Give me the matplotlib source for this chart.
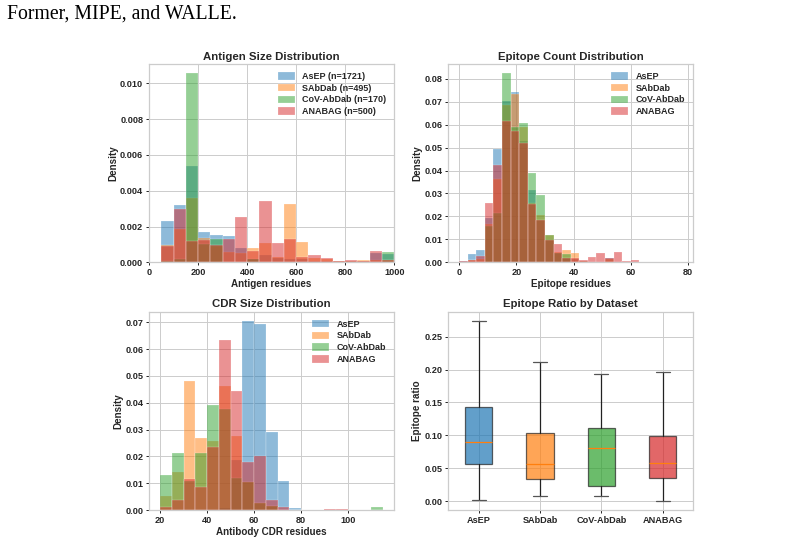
"""Dataset statistics panel: antigen size, epitope count, CDR size, epitope ratio."""

import matplotlib

matplotlib.use("Agg")
import matplotlib.pyplot as plt  # noqa: E402
import numpy as np  # noqa: E402

DATASETS = ["AsEP", "SAbDab", "CoV-AbDab", "ANABAG"]
DATASET_N = [1721, 495, 170, 500]
COLORS = ["#1f77b4", "#ff7f0e", "#2ca02c", "#d62728"]

# Antigen size histogram (density), bins of 50 residues from 50 to 1000
ANTIGEN_EDGES = list(range(50, 1001, 50))
ANTIGEN_ASEP = [0.0023, 0.0032, 0.0054, 0.0017, 0.00153, 0.00147, 0.00082, 0.0002, 0.0004, 0.00025,
                0.0002, 0.0002, 0.0001, 0.0001, 0.00005, 0.00005, 0.00005, 0.00054, 0.00045]
ANTIGEN_SABDAB = [0.00098, 0.00185, 0.0036, 0.00138, 0.0009, 0.00056, 0.0005, 0.00078, 0.00108, 0.0003,
                  0.00326, 0.00116, 0.00022, 0.00017, 0.00007, 0.00005, 0.00015, 0.00015, 0.00015]
ANTIGEN_COV = [0.0001, 0.0002, 0.01056, 0.00105, 0.00128, 0.0, 0.0, 0.0002, 0.0, 0.0,
               0.0, 0.0, 0.0, 0.0, 0.0, 0.0, 0.0, 0.0, 0.00058]
ANTIGEN_ANABAG = [0.00093, 0.0030, 0.0012, 0.00125, 0.00095, 0.00132, 0.00254, 0.00063, 0.0034, 0.00108,
                  0.0013, 0.00028, 0.0004, 0.00024, 0.00007, 0.00013, 0.0001, 0.00062, 0.00015]

# Epitope count histogram (density), bins of 3 residues from 0 to 78
EPITOPE_EDGES = list(range(0, 79, 3))
EPITOPE_ASEP = [0.0005, 0.0035, 0.0054, 0.0192, 0.0492, 0.0704, 0.0740, 0.0530, 0.0316, 0.0185,
                0.0097, 0.0039, 0.0017, 0.0015, 0.0004, 0.0003, 0.0003, 0.0018, 0.0002, 0.0001,
                0.0001, 0.0, 0.0, 0.0, 0.0, 0.0001]
EPITOPE_SABDAB = [0.0003, 0.0008, 0.0015, 0.0165, 0.0362, 0.0687, 0.0733, 0.0588, 0.0260, 0.0207,
                  0.0119, 0.0045, 0.0052, 0.0039, 0.0005, 0.0, 0.0, 0.0015, 0.0, 0.0,
                  0.0, 0.0, 0.0, 0.0, 0.0, 0.0]
EPITOPE_COV = [0.0, 0.0, 0.0, 0.0158, 0.0214, 0.0823, 0.0588, 0.0607, 0.0388, 0.0294,
               0.0117, 0.0040, 0.0038, 0.0, 0.0, 0.0, 0.0, 0.0, 0.0, 0.0,
               0.0, 0.0, 0.0, 0.0, 0.0, 0.0]
EPITOPE_ANABAG = [0.0006, 0.0012, 0.0028, 0.0259, 0.0425, 0.0614, 0.0573, 0.0520, 0.0253, 0.0185,
                  0.0097, 0.0080, 0.0017, 0.0019, 0.0010, 0.0025, 0.0039, 0.0019, 0.0045, 0.0006,
                  0.0012, 0.0, 0.0, 0.0, 0.0, 0.0]

# CDR size histogram (density), bins of 5 residues from 20 to 115
CDR_EDGES = list(range(20, 116, 5))
CDR_ASEP = [0.0, 0.0, 0.0, 0.0, 0.0, 0.0007, 0.0187, 0.0704, 0.0693, 0.0292,
            0.0108, 0.0007, 0.0, 0.0, 0.0, 0.0, 0.0, 0.0, 0.0]
CDR_SABDAB = [0.0052, 0.0140, 0.0481, 0.0270, 0.0257, 0.0462, 0.0277, 0.0103, 0.0025, 0.0015,
              0.0, 0.0, 0.0, 0.0, 0.0, 0.0, 0.0, 0.0, 0.0]
CDR_COV = [0.0131, 0.0213, 0.0110, 0.0213, 0.0390, 0.0378, 0.0120, 0.0103, 0.0025, 0.0015,
           0.0, 0.0, 0.0, 0.0, 0.0, 0.0, 0.0, 0.0, 0.0011]
CDR_ANABAG = [0.0010, 0.0037, 0.0116, 0.0086, 0.0233, 0.0634, 0.0444, 0.0178, 0.0203, 0.0037,
              0.0010, 0.0, 0.0, 0.0, 0.0003, 0.0003, 0.0, 0.0, 0.0]

# Epitope ratio box statistics per dataset
RATIO_WHISLO = [0.0015, 0.0081, 0.0081, 0.0]
RATIO_Q1 = [0.0558, 0.0330, 0.0233, 0.0345]
RATIO_MED = [0.0903, 0.0558, 0.0811, 0.0573]
RATIO_Q3 = [0.1425, 0.1040, 0.1105, 0.0989]
RATIO_WHISHI = [0.2743, 0.2110, 0.1927, 0.1957]


def _setup_style():
    plt.style.use("seaborn-v0_8-whitegrid")
    plt.rcParams.update(
        {
            "font.family": ["Liberation Sans", "DejaVu Sans"],
            "font.weight": "bold",
            "axes.titleweight": "bold",
            "axes.labelweight": "bold",
            "axes.titlesize": 8.2,
            "axes.labelsize": 7.1,
            "xtick.labelsize": 6.6,
            "ytick.labelsize": 6.6,
            "legend.fontsize": 6.5,
            "xtick.major.size": 2.2,
            "ytick.major.size": 2.2,
            "xtick.major.width": 0.7,
            "ytick.major.width": 0.7,
            "xtick.major.pad": 2,
            "ytick.major.pad": 2,
            "axes.titlepad": 3,
            "axes.labelpad": 1.5,
            "grid.linewidth": 0.7,
            "axes.linewidth": 0.9,
        }
    )


def _hist(ax, edges, series, labels):
    edges = np.asarray(edges, dtype=float)
    for values, label, color in zip(series, labels, COLORS):
        ax.hist(edges[:-1], bins=edges, weights=values, alpha=0.5, color=color,
                label=label, edgecolor="white", linewidth=0.3)
    ax.legend(loc="upper right", frameon=False, handlelength=1.9, handleheight=0.9,
              borderaxespad=0.5, labelspacing=0.3, handletextpad=0.8)
    ax.set_ylabel("Density")


def main():
    _setup_style()
    fig = plt.figure(figsize=(7.9, 5.42), dpi=100)
    left_x, right_x, width = 0.1886, 0.5671, 0.3105
    top_y, bottom_y, height = 0.516, 0.059, 0.366
    ax_ag = fig.add_axes([left_x, top_y, width, height])
    ax_ep = fig.add_axes([right_x, top_y, width, height])
    ax_cdr = fig.add_axes([left_x, bottom_y, width, height])
    ax_box = fig.add_axes([right_x, bottom_y, width, height])

    fig.text(0.009, 0.966, "Former, MIPE, and WALLE.", family=["Liberation Serif", "DejaVu Serif"],
             fontsize=14.2, weight="normal", color="black", ha="left", va="baseline")

    labels_n = [f"{d} (n={n})" for d, n in zip(DATASETS, DATASET_N)]
    _hist(ax_ag, ANTIGEN_EDGES, [ANTIGEN_ASEP, ANTIGEN_SABDAB, ANTIGEN_COV, ANTIGEN_ANABAG], labels_n)
    ax_ag.set_xlim(0, 1000)
    ax_ag.set_xlabel("Antigen residues")
    ax_ag.set_title("Antigen Size Distribution")

    _hist(ax_ep, EPITOPE_EDGES, [EPITOPE_ASEP, EPITOPE_SABDAB, EPITOPE_COV, EPITOPE_ANABAG], DATASETS)
    ax_ep.set_xlabel("Epitope residues")
    ax_ep.set_title("Epitope Count Distribution")

    _hist(ax_cdr, CDR_EDGES, [CDR_ASEP, CDR_SABDAB, CDR_COV, CDR_ANABAG], DATASETS)
    ax_cdr.set_xlabel("Antibody CDR residues")
    ax_cdr.set_title("CDR Size Distribution")

    stats = [
        {"label": d, "whislo": lo, "q1": q1, "med": med, "q3": q3, "whishi": hi, "fliers": []}
        for d, lo, q1, med, q3, hi in zip(DATASETS, RATIO_WHISLO, RATIO_Q1, RATIO_MED,
                                          RATIO_Q3, RATIO_WHISHI)
    ]
    bp = ax_box.bxp(stats, widths=0.45, patch_artist=True, showfliers=False,
                    medianprops={"color": "#ff7f0e", "linewidth": 0.9},
                    whiskerprops={"color": "#222222", "linewidth": 0.9},
                    capprops={"color": "#555555", "linewidth": 0.9},
                    boxprops={"linewidth": 0.9})
    for patch, color in zip(bp["boxes"], COLORS):
        patch.set_facecolor(color)
        patch.set_edgecolor("#222222")
        patch.set_alpha(0.7)
    ax_box.set_ylabel("Epitope ratio")
    ax_box.set_title("Epitope Ratio by Dataset")

    fig.savefig("out.png", dpi=100)
    plt.close(fig)


if __name__ == "__main__":
    main()
